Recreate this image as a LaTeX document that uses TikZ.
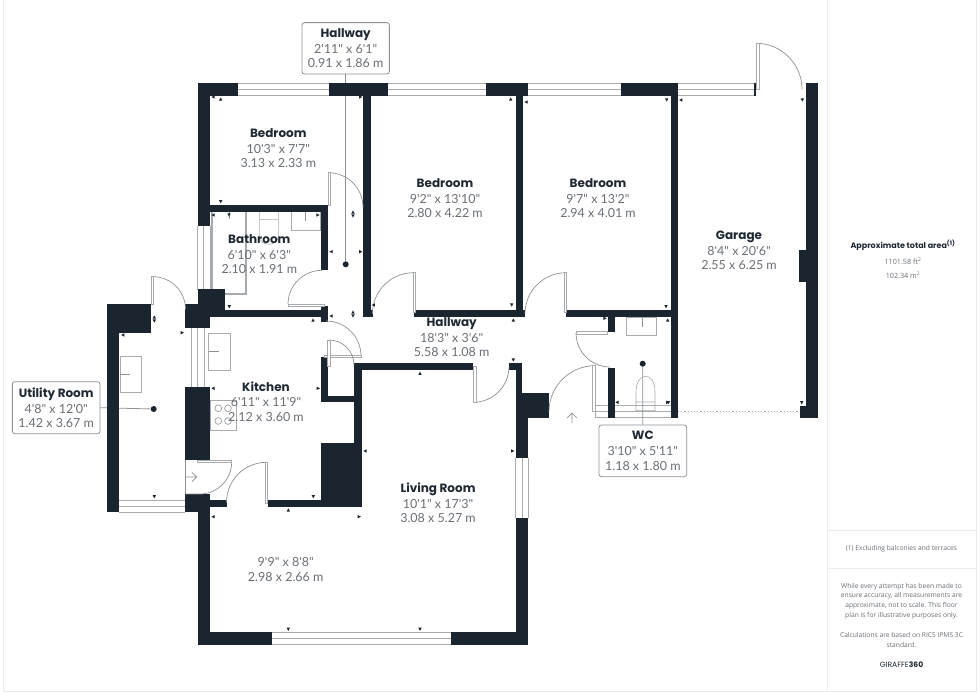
\documentclass[tikz,border=0pt]{standalone}
\usepackage{fontspec}
\newfontfamily\dimfont{Lato}
\newfontfamily\ttlfont{Poppins}
\newfontfamily\panelfont{Open Sans}
\definecolor{wallc}{HTML}{1B2530}
\definecolor{linec}{HTML}{8E9296}
\definecolor{winc}{HTML}{A8ABAE}
\definecolor{dimc}{HTML}{6A7076}
\definecolor{panelc}{HTML}{E9EBED}
\definecolor{ttlc}{HTML}{1F2933}
\newcommand{\rmtxt}[3]{{\ttlfont\fontsize{12}{14}\selectfont\color{ttlc}\bfseries #1}\\[1.4pt]{\color{dimc}#2}\\{\color{dimc}#3}}
\newcommand{\wl}[4]{\fill[wallc] (#1,#2) rectangle (#3,#4);}
\newcommand{\winh}[3]{\fill[white] (#1,#3-6.2) rectangle (#2,#3+6.2);\draw[winline] (#1,#3-6.2) -- (#2,#3-6.2) (#1,#3) -- (#2,#3) (#1,#3+6.2) -- (#2,#3+6.2);}
\newcommand{\winv}[3]{\draw[winline] (#1-6.2,#2) -- (#1-6.2,#3) (#1,#2) -- (#1,#3) (#1+6.2,#2) -- (#1+6.2,#3);}
\tikzset{
  x=1pt,y=-1pt,
  winline/.style={draw=winc,line width=0.9pt},
  leaf/.style={draw=winc,line width=0.9pt,fill=white},
  swing/.style={draw=linec,line width=0.7pt},
  fixture/.style={draw=winc,line width=0.9pt,fill=white},
  fixthin/.style={draw=linec,line width=0.6pt},
  leader/.style={draw=linec,line width=0.8pt},
  dotmark/.style={circle,fill=wallc,inner sep=0pt,minimum size=6pt},
  room/.style={align=center,font=\dimfont\fontsize{12.5}{14.4}\selectfont,inner sep=0pt},
  callout/.style={room,draw=linec,line width=0.8pt,fill=white,rounded corners=2.5pt},
  panel/.style={align=center,font=\panelfont\fontsize{6.7}{9.6}\selectfont,text=dimc,inner sep=0pt},
  panelline/.style={draw=panelc,line width=0.8pt}
}
\begin{document}
\begin{tikzpicture}
\useasboundingbox (0,0) rectangle (980,693);
\fill[white] (0,0) rectangle (980,693);
% panel frame
\draw[panelline] (3.5,0) -- (3.5,691) -- (976,691) -- (976,0);
\draw[panelline] (827,0) -- (827,691) (827,530) -- (976,530) (827,568) -- (976,568);
% named markers for leaders
\node[dotmark] (halldot) at (345.7,264.3) {};
\node[dotmark] (utildot) at (153.7,409) {};
\node[dotmark] (wcdot) at (642.7,363.7) {};
\node[callout,minimum width=87.3pt,minimum height=51.3pt] (hallbox) at (345.7,48.3) {\rmtxt{Hallway}{2'11" x 6'1"}{0.91 x 1.86 m}};
\node[callout,minimum width=87.7pt,minimum height=52pt] (utilbox) at (56.2,407.7) {\rmtxt{Utility Room}{4'8" x 12'0"}{1.42 x 3.67 m}};
\node[callout,minimum width=87.7pt,minimum height=51.7pt] (wcbox) at (642.8,450.8) {\rmtxt{WC}{3'10" x 5'11"}{1.18 x 1.80 m}};
\draw[leader] (hallbox.south) -- (halldot);
\draw[leader] (utilbox.east) -- (utildot);
% fixtures
\draw[fixture] (211,211.7) rectangle (246.7,294.3);
\draw[fixthin,draw=winc] (212.5,211.7) -- (212.5,292.8) -- (245.2,292.8) -- (245.2,211.7);
\draw[fixthin] (229,212) -- (229,219);
\draw[fixthin,draw=winc] (259.3,211.7) -- (259.3,236) .. controls (259.3,247) and (278.3,247) .. (278.3,236) -- (278.3,211.7) (259.3,219.3) -- (278.3,219.3);
\draw[fixture] (291,211.7) rectangle (320,230);
\draw[fixthin] (305.5,212) -- (305.5,221);
\draw[fixture] (120,356.7) rectangle (141.7,392.7);
\draw[fixthin] (120,374.3) -- (130,374.3);
\draw[fixture] (208.5,333.3) rectangle (230,370);
\draw[fixthin] (208.5,351.7) -- (219,351.7);
\draw[fixthin,draw=winc] (210,400) rectangle (236,430);
\foreach \cx/\cy in {218.3/408.3,228/408.3,218.3/421,228/421}{\draw[fixthin] (\cx,\cy) circle (3.4);}
\draw[fixture] (626.7,317.7) rectangle (656.7,335);
\draw[fixthin] (642,318) -- (642,327);
\draw[fixthin,draw=winc] (636,410.7) -- (636,392) .. controls (636,371) and (655,371) .. (655,392) -- (655,410.7) -- cycle (636,402) -- (655,402);
% windows
\winh{237.7}{329.3}{89.6}
\winh{388}{486}{89.6}
\winh{528}{620.7}{89.6}
\winh{678}{755}{89.6}
\winh{119.3}{185}{506.2}
\winh{272.3}{450.7}{638.6}
\winv{203.9}{226}{290}
\winv{197.8}{328}{386.7}
\winv{522}{458}{518.3}
\draw[winline] (595,405) -- (671,405) (595,411.2) -- (671,411.2) (595,417.6) -- (671,417.6) (595,405) -- (595,417.6);
\draw[draw=winc,line width=1.2pt,dotted,line cap=butt] (678,411.7) -- (800,411.7);
% walls
\wl{197.7}{83.3}{237.7}{96}
\wl{329.3}{83.3}{388.3}{96}
\wl{486}{83.3}{528}{96}
\wl{620.7}{83.3}{678.3}{96}
\wl{197.7}{83.3}{210.3}{226}
\wl{363.3}{96}{370.7}{316.7}
\wl{363.3}{310}{373.3}{316.7}
\wl{210}{205}{327.7}{211.7}
\wl{320.7}{205}{327.7}{270}
\wl{225}{310}{320.7}{316.7}
\wl{320.7}{306}{327.7}{321.7}
\wl{197.7}{289.3}{225}{316.7}
\wl{185}{304.3}{210}{328}
\wl{106.7}{304.3}{151}{333.3}
\wl{106.7}{304.3}{119.3}{512.3}
\wl{185}{386.7}{210}{460}
\wl{185}{494}{210}{512.3}
\wl{197.7}{494}{210.3}{645}
\wl{197.7}{632.3}{272.3}{645}
\wl{450.7}{632.3}{528.3}{645}
\wl{515.7}{518.3}{528.3}{645}
\wl{210}{500}{226.7}{506.7}
\wl{267.7}{500}{361.7}{506.7}
\wl{320.7}{443.3}{361.7}{506.7}
\wl{354.3}{363.3}{361.7}{443.3}
\wl{354.3}{363.3}{473.3}{370}
\wl{509}{363.3}{522.3}{370}
\wl{515.7}{363.3}{522.3}{420}
\wl{515.7}{393.3}{549}{418.3}
\wl{515.7}{418}{528.3}{458.3}
\wl{320.7}{357.3}{328.3}{402.3}
\wl{320.7}{395.7}{354.3}{402.3}
\wl{414.3}{310}{525}{316.7}
\wl{566}{310}{677.7}{316.7}
\wl{515.7}{96}{522.7}{316}
\wl{671}{96}{678.3}{418.3}
\wl{805.7}{83.3}{818.3}{418.3}
\wl{799.3}{250}{805.7}{282}
\wl{800}{406}{806}{418.3}
\wl{607.7}{316}{615}{332.3}
\wl{607.7}{367.7}{615}{418.3}
\wl{754}{83.3}{756}{96}
% doors
\draw[swing] (756,43.3) arc[start angle=-90,end angle=0,radius=46];
\draw[leaf] (756,43.3) rectangle (759,89);
\draw[swing] (328.5,172.7) arc[start angle=-90,end angle=0,radius=34.5];
\draw[leaf] (328,172.7) rectangle (330.7,205);
\draw[swing] (288,304.3) arc[start angle=-180,end angle=-90,radius=34];
\draw[leaf] (288,304.3) rectangle (324,306.5);
\draw[swing] (153,276.7) arc[start angle=-90,end angle=0,radius=32.5];
\draw[leaf] (151,276.7) rectangle (153.8,304.3);
\draw[swing] (326,321) arc[start angle=-90,end angle=0,radius=35];
\draw[leaf] (324,355) rectangle (361,357.3);
\draw[swing] (329,340) arc[start angle=-90,end angle=0,radius=25];
\draw[leaf] (327.5,340) rectangle (330.7,366);
\draw[swing] (266.5,462.3) arc[start angle=-90,end angle=-180,radius=40];
\draw[leaf] (265.7,462.3) rectangle (267.9,503.3);
\draw[swing] (231.7,462) arc[start angle=0,end angle=90,radius=32] -- (185,494);
\draw[leaf] (197.7,460) rectangle (231.7,462.3);
\draw[swing] (185,460) -- (185,494);
\draw[swing] (185,477) -- (196.7,477) (192,472.5) -- (196.7,477) -- (192,481.5);
\draw[swing] (413.5,272.7) arc[start angle=-90,end angle=-180,radius=41];
\draw[leaf] (413,272.7) rectangle (415.3,312);
\draw[swing] (566,272.7) arc[start angle=-90,end angle=-180,radius=41];
\draw[leaf] (564,272.7) rectangle (566.5,312);
\draw[swing] (473.3,402.3) arc[start angle=90,end angle=0,radius=35.7];
\draw[leaf] (473.3,366.7) rectangle (476,402.3);
\draw[swing] (576,333) arc[start angle=180,end angle=90,radius=34];
\draw[leaf] (576,331.7) rectangle (607.7,334);
\draw[swing] (549,411.7) arc[start angle=-180,end angle=-90,radius=46];
\draw[leaf] (592.3,365.7) rectangle (595,411.7);
\draw[swing] (572,423) -- (572,413) (567,418) -- (572,413) -- (577,418);
% leader over the WC window
\draw[leader] (wcbox.north) -- (wcdot);
% measuring ticks
\foreach \tx/\ty/\ta in {
 213/97/0,220.7/99/-90,360.7/97/180,220.7/201.7/90,353/212/-90,353/216/90,331/251.7/0,360.7/251.7/180,
 353/312/-90,353/316/90,331/316/0,313/320/-90,229.3/306.7/90,154.3/317/-90,154.3/321/90,182.3/332.7/180,122.7/335/0,
 213/215/0,229/215/90,318/215/180,213/388.3/0,318.3/388.3/180,365/451/0,313.3/496.7/90,288.3/510/-90,154.3/496.7/90,
 213/516.7/0,359.3/516.7/180,373.3/305/0,511.7/305/90,513.3/320/-90,420/373.3/-90,513.3/360/90,512.7/451/180,
 605/318.3/180,666/306.7/90,667.7/320/-90,617/402.3/0,667.7/402.3/180,288.3/629.3/90,420/629.3/90,
 510.7/99/-90,526/102/0,666.7/100/90,680.7/100/0,802.3/100/90,801.7/402.7/90,668.3/402.7/90}
 {\fill[wallc,shift={(\tx,\ty)},rotate=\ta] (-1.6pt,0pt) -- (1.6pt,-1.7pt) -- (1.6pt,1.7pt) -- cycle;}
% room labels
\node[room] (bed1) at (278.3,148) {\rmtxt{Bedroom}{10'3" x 7'7"}{3.13 x 2.33 m}};
\node[room] (bed2) at (445,198) {\rmtxt{Bedroom}{9'2" x 13'10"}{2.80 x 4.22 m}};
\node[room] (bed3) at (598,198) {\rmtxt{Bedroom}{9'7" x 13'2"}{2.94 x 4.01 m}};
\node[room] (bath) at (259.3,254) {\rmtxt{Bathroom}{6'10" x 6'3"}{2.10 x 1.91 m}};
\node[room] (hall2) at (451.7,337) {\rmtxt{Hallway}{18'3" x 3'6"}{5.58 x 1.08 m}};
\node[room] (kit) at (266,401.5) {\rmtxt{Kitchen}{6'11" x 11'9"}{2.12 x 3.60 m}};
\node[room] (liv) at (438,503) {\rmtxt{Living Room}{10'1" x 17'3"}{3.08 x 5.27 m}};
\node[room,text=dimc] (liv2) at (285.7,569.5) {9'9" x 8'8"\\2.98 x 2.66 m};
\node[room] (gar) at (739,250.5) {\rmtxt{Garage}{8'4" x 20'6"}{2.55 x 6.25 m}};
% panel text
\node[panel,font=\ttlfont\bfseries\fontsize{8}{9}\selectfont,text=ttlc] (ptitle) at (903,245) {Approximate total area\textsuperscript{(1)}};
\node[panel,font=\panelfont\fontsize{7.2}{9.6}\selectfont] (p1) at (903,261) {1101.58 ft\textsuperscript{2}};
\node[panel,font=\panelfont\fontsize{7.2}{9.6}\selectfont] (p2) at (903,275) {102.34 m\textsuperscript{2}};
\node[panel] (p3) at (901.5,548.5) {(1) Excluding balconies and terraces};
\node[panel] (p4) at (901.5,601) {While every attempt has been made to\\ensure accuracy, all measurements are\\approximate, not to scale. This floor\\plan is for illustrative purposes only.};
\node[panel] (p5) at (901.5,640) {Calculations are based on RICS IPMS 3C\\standard.};
\node[panel,font=\ttlfont\fontsize{7.6}{9}\selectfont,text=ttlc] (p6) at (901.5,664.5) {GIRAFFE\textbf{360}};
\end{tikzpicture}
\end{document}
